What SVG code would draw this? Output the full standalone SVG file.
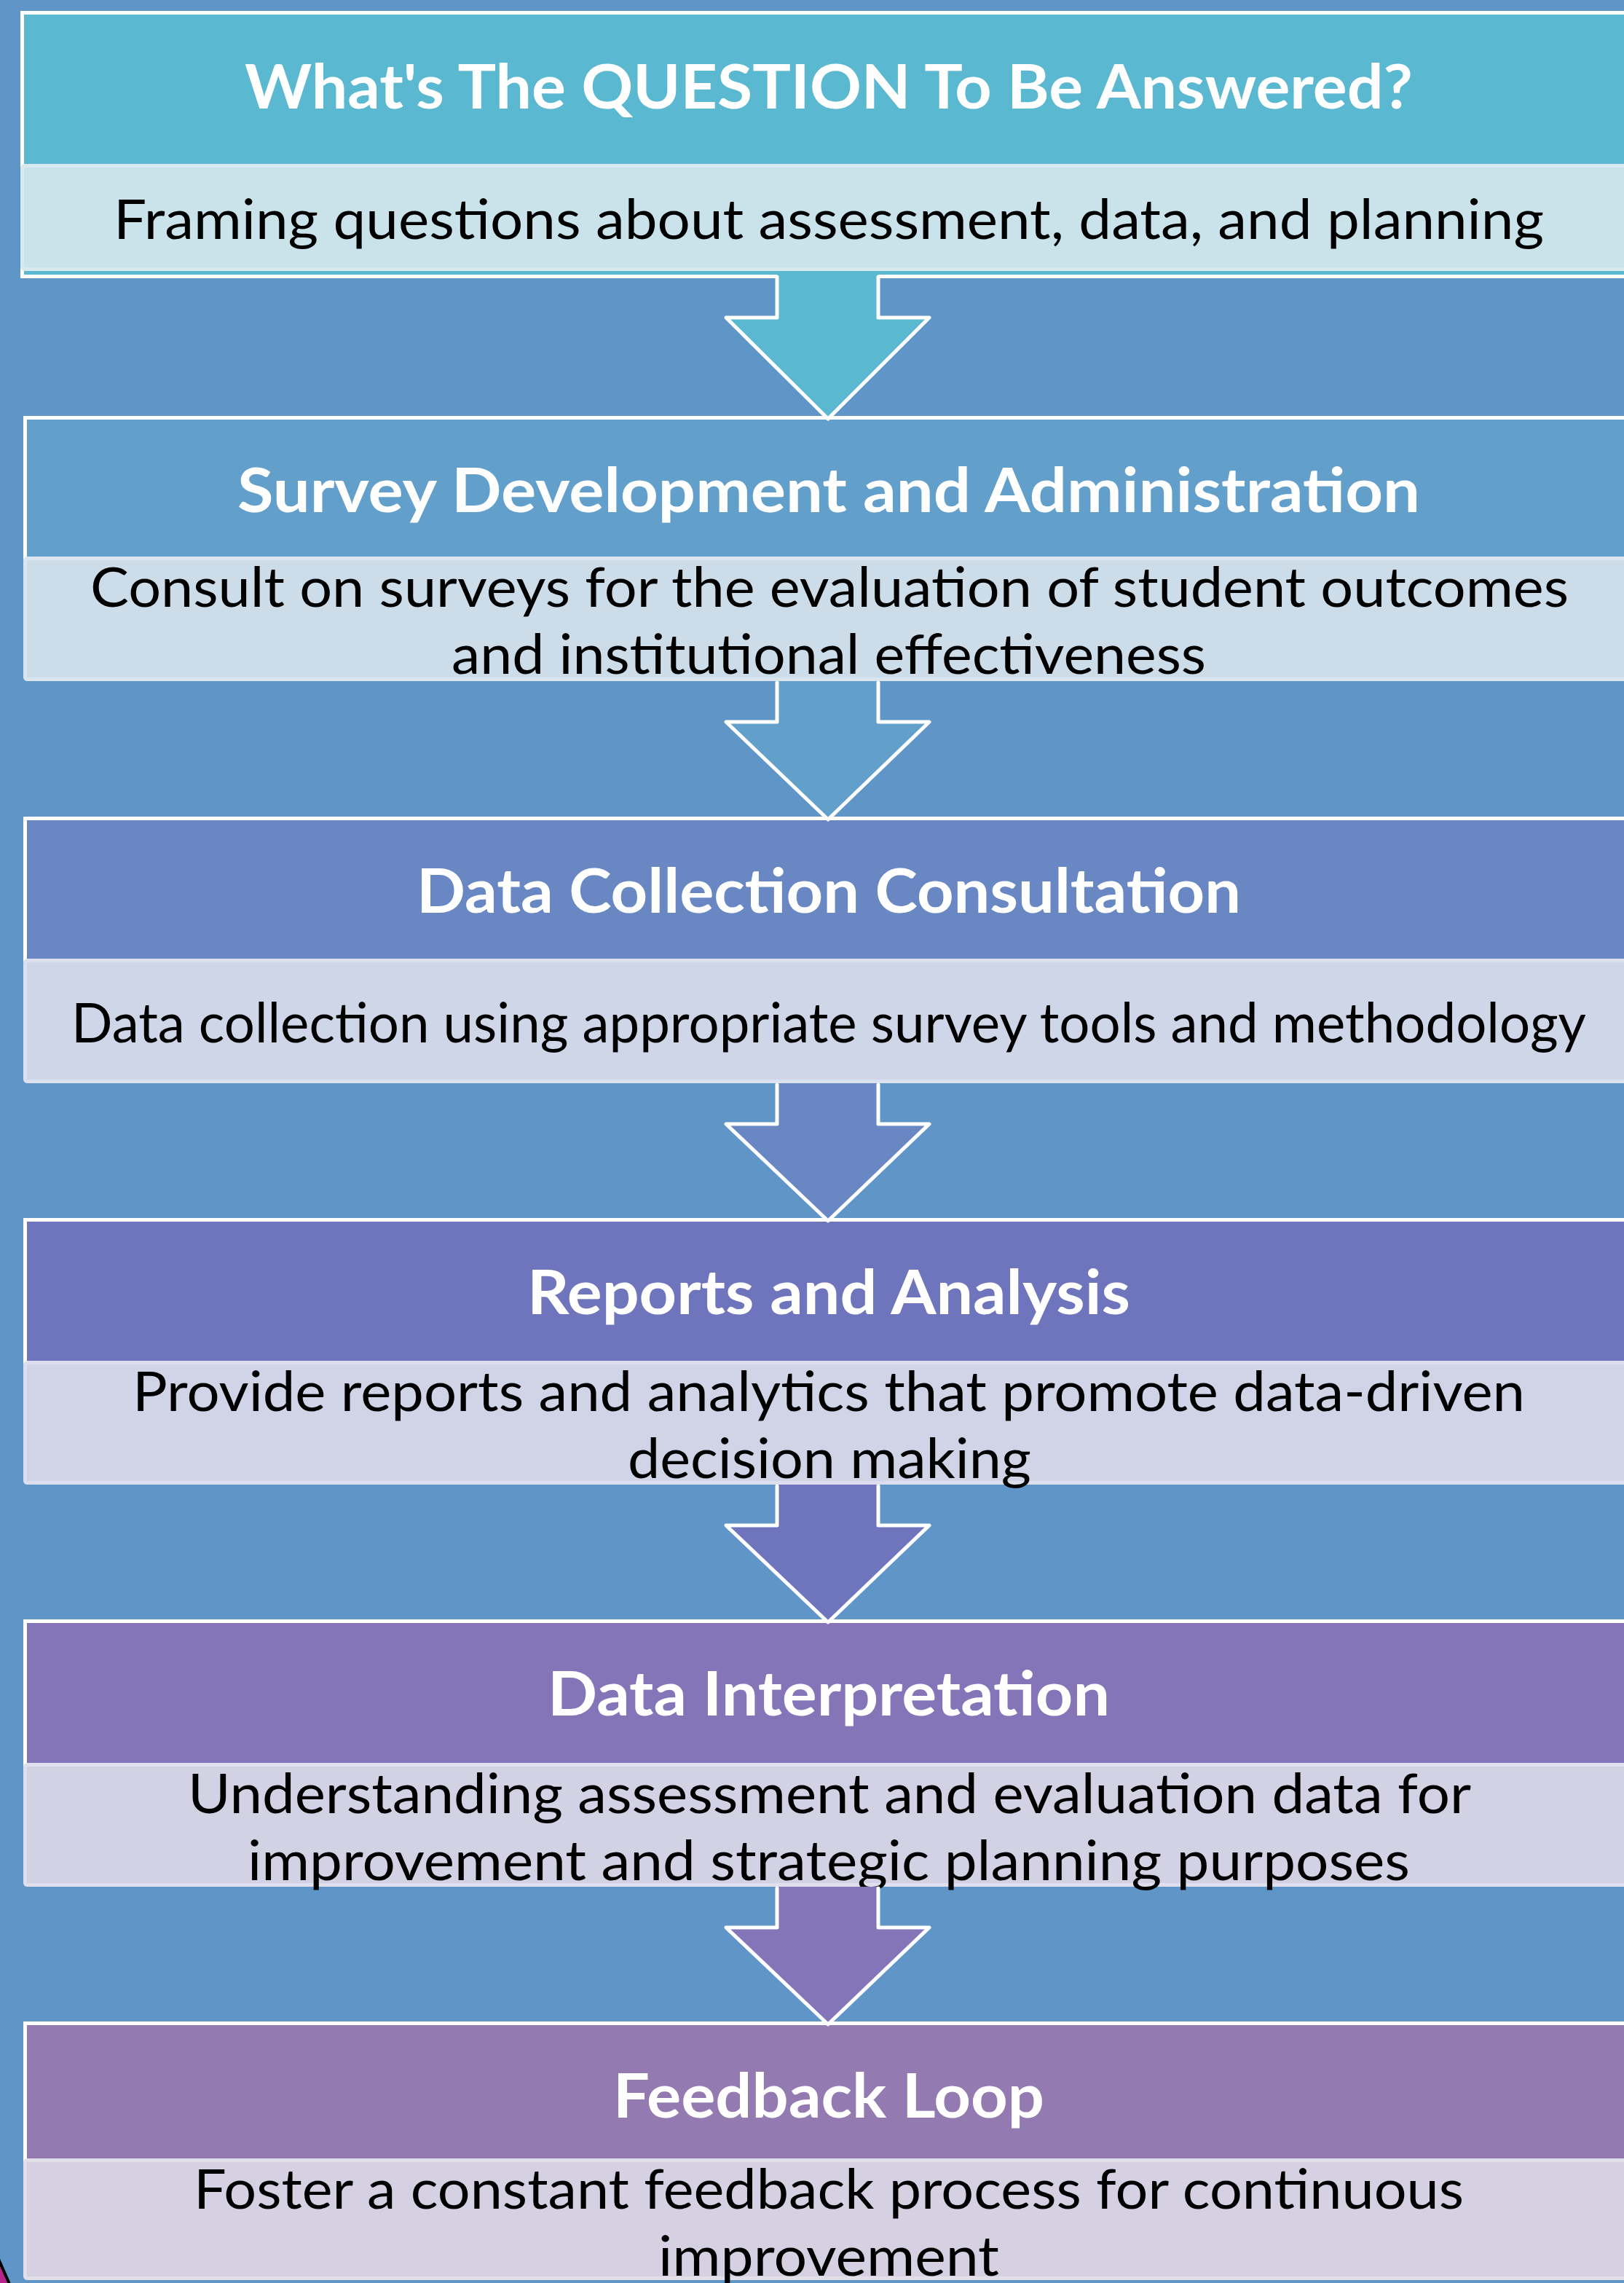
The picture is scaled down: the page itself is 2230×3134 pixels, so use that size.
<svg xmlns="http://www.w3.org/2000/svg" width="2230" height="3134" viewBox="0 0 2230 3134">
<style>
.frame{stroke:#FFFFFF;stroke-width:5}
.band{stroke-width:5}
.title{font-family:Lato,"Open Sans","Liberation Sans",sans-serif;font-weight:700;font-size:85px;fill:#FFFFFF;text-anchor:middle}
.desc{font-family:Lato,"Open Sans","Liberation Sans",sans-serif;font-weight:400;font-size:75px;fill:#000000;text-anchor:middle}
.arrow-outline{fill:none;stroke:#FFFFFF;stroke-width:5;stroke-linejoin:round;stroke-linecap:round}
</style>
<rect x="0" y="0" width="2230" height="3134" fill="#5F95C7"/>
<polygon points="-20,3060 15,3140 -20,3140" fill="#B8248E" stroke="#000000" stroke-width="4"/>

<g id="node-question">
<rect class="frame" x="30.5" y="17.5" width="2300" height="362" fill="#5BB8D1"/>
<rect class="band" x="30.5" y="227.5" width="2300" height="142" rx="3" fill="#CAE3EB" stroke="#D8EAF0"/>
<text class="title" x="1138" y="149" textLength="1604" lengthAdjust="spacingAndGlyphs">What's The QUESTION To Be Answered?</text>
<text class="desc" x="1138" y="328" textLength="1964" lengthAdjust="spacingAndGlyphs">Framing questions about assessment, data, and planning</text>
</g>

<g id="node-survey">
<rect class="frame" x="34.5" y="573.5" width="2300" height="355" fill="#629FCB"/>
<rect class="band" x="34.5" y="766.5" width="2300" height="166" rx="3" fill="#CCDCE8" stroke="#DAE5EF"/>
<text class="title" x="1138" y="703" textLength="1624" lengthAdjust="spacingAndGlyphs">Survey Development and Administration</text>
<text class="desc" x="1139" y="833" textLength="2030" lengthAdjust="spacingAndGlyphs">Consult on surveys for the evaluation of student outcomes</text>
<text class="desc" x="1138" y="925" textLength="1036" lengthAdjust="spacingAndGlyphs">and institutional effectiveness</text>
</g>

<g id="node-collection">
<rect class="frame" x="34.5" y="1123.5" width="2300" height="356" fill="#6887C3"/>
<rect class="band" x="34.5" y="1318.5" width="2300" height="166" rx="3" fill="#CFD6E8" stroke="#DCE1EF"/>
<text class="title" x="1138" y="1253" textLength="1132" lengthAdjust="spacingAndGlyphs">Data Collection Consultation</text>
<text class="desc" x="1138" y="1431" textLength="2080" lengthAdjust="spacingAndGlyphs">Data collection using appropriate survey tools and methodology</text>
</g>

<g id="node-reports">
<rect class="frame" x="34.5" y="1674.5" width="2300" height="356" fill="#6E75BD"/>
<rect class="band" x="34.5" y="1870.5" width="2300" height="165" rx="3" fill="#D1D3E7" stroke="#DEDFEE"/>
<text class="title" x="1138" y="1804" textLength="828" lengthAdjust="spacingAndGlyphs">Reports and Analysis</text>
<text class="desc" x="1138" y="1937" textLength="1912" lengthAdjust="spacingAndGlyphs">Provide reports and analytics that promote data-driven</text>
<text class="desc" x="1139" y="2029" textLength="554" lengthAdjust="spacingAndGlyphs">decision making</text>
</g>

<g id="node-interpretation">
<rect class="frame" x="34.5" y="2225.5" width="2300" height="357" fill="#8375B8"/>
<rect class="band" x="34.5" y="2422.5" width="2300" height="165" rx="3" fill="#D3D2E5" stroke="#E0DFED"/>
<text class="title" x="1138" y="2355" textLength="772" lengthAdjust="spacingAndGlyphs">Data Interpretation</text>
<text class="desc" x="1139" y="2489" textLength="1762" lengthAdjust="spacingAndGlyphs">Understanding assessment and evaluation data for</text>
<text class="desc" x="1138" y="2581" textLength="1596" lengthAdjust="spacingAndGlyphs">improvement and strategic planning purposes</text>
</g>

<g id="node-feedback">
<rect class="frame" x="34.5" y="2777.5" width="2300" height="345" fill="#937BB1"/>
<rect class="band" x="34.5" y="2965.5" width="2300" height="162" rx="3" fill="#D5D1E2" stroke="#E2DFEB"/>
<text class="title" x="1138" y="2907" textLength="592" lengthAdjust="spacingAndGlyphs">Feedback Loop</text>
<text class="desc" x="1138" y="3032" textLength="1744" lengthAdjust="spacingAndGlyphs">Foster a constant feedback process for continuous</text>
<text class="desc" x="1138" y="3124" textLength="468" lengthAdjust="spacingAndGlyphs">improvement</text>
</g>

<g id="connectors">
<polygon points="1067,377 1206,377 1206,436 1276,436 1137,575 997,436 1067,436" fill="#5BB8D1"/>
<path class="arrow-outline" d="M1067,380 V436 H997 L1137,575 L1276,436 H1206 V380"/>
<polygon points="1067,935 1206,935 1206,991 1276,991 1137,1125 997,991 1067,991" fill="#629FCB"/>
<path class="arrow-outline" d="M1067,937 V991 H997 L1137,1125 L1276,991 H1206 V937"/>
<polygon points="1067,1487 1206,1487 1206,1543 1276,1543 1137,1676 997,1543 1067,1543" fill="#6887C3"/>
<path class="arrow-outline" d="M1067,1489 V1543 H997 L1137,1676 L1276,1543 H1206 V1489"/>
<polygon points="1067,2038 1206,2038 1206,2094 1276,2094 1137,2227 997,2094 1067,2094" fill="#6E75BD"/>
<path class="arrow-outline" d="M1067,2040 V2094 H997 L1137,2227 L1276,2094 H1206 V2040"/>
<polygon points="1067,2590 1206,2590 1206,2646 1276,2646 1137,2779 997,2646 1067,2646" fill="#8375B8"/>
<path class="arrow-outline" d="M1067,2592 V2646 H997 L1137,2779 L1276,2646 H1206 V2592"/>
</g>
</svg>
